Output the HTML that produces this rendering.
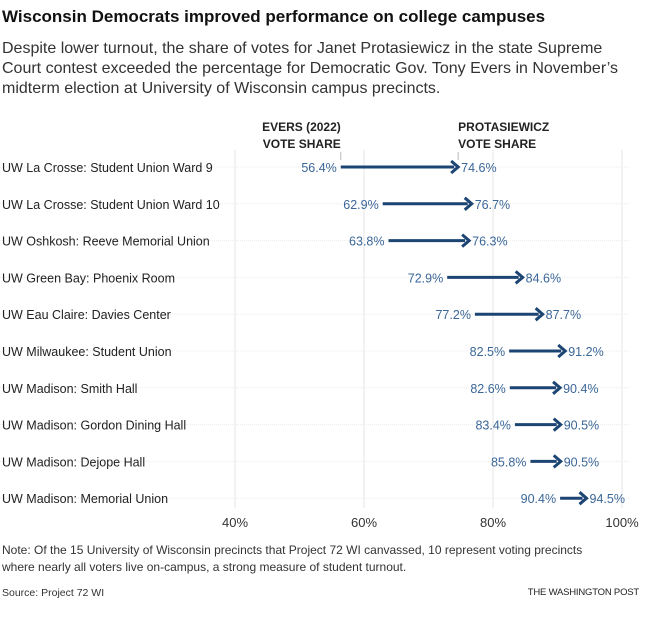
<!DOCTYPE html>
<html><head><meta charset="utf-8"><style>
body{margin:0;width:647px;height:619px;background:#fff;font-family:"Liberation Sans",sans-serif;color:#222;overflow:hidden;position:relative}
.t{position:absolute;left:2px;top:7px;font-size:17px;font-weight:bold;color:#111}
.s{position:absolute;left:2px;top:39px;width:622px;font-size:16px;line-height:20px;color:#333}
.n{position:absolute;left:2px;top:542px;width:612px;font-size:12px;line-height:17px;color:#333}
.src{position:absolute;left:2px;top:587px;font-size:10.5px;color:#333}
.wp{position:absolute;right:8px;top:587px;font-size:9.5px;color:#222;letter-spacing:-0.2px}
</style></head><body>
<div class="t">Wisconsin Democrats improved performance on college campuses</div>
<div class="s">Despite lower turnout, the share of votes for Janet Protasiewicz in the state Supreme Court contest exceeded the percentage for Democratic Gov. Tony Evers in November’s midterm election at University of Wisconsin campus precincts.</div>
<svg id="c" width="647" height="619" style="position:absolute;left:0;top:0"></svg>
<div class="n">Note: Of the 15 University of Wisconsin precincts that Project 72 WI canvassed, 10 represent voting precincts where nearly all voters live on-campus, a strong measure of student turnout.</div>
<div class="src">Source: Project 72 WI</div>
<div class="wp">THE WASHINGTON POST</div>
<script>
const categories=["UW La Crosse: Student Union Ward 9","UW La Crosse: Student Union Ward 10","UW Oshkosh: Reeve Memorial Union","UW Green Bay: Phoenix Room","UW Eau Claire: Davies Center","UW Milwaukee: Student Union","UW Madison: Smith Hall","UW Madison: Gordon Dining Hall","UW Madison: Dejope Hall","UW Madison: Memorial Union"];
const evers=[56.4,62.9,63.8,72.9,77.2,82.5,82.6,83.4,85.8,90.4];
const protasiewicz=[74.6,76.7,76.3,84.6,87.7,91.2,90.4,90.5,90.5,94.5];
const ticks=[40,60,80,100];
const NS="http://www.w3.org/2000/svg";
const svg=document.getElementById('c');
const x=v=>235+(v-40)*6.45;
const y=i=>167+i*36.8;
function mk(tag,at,txt){const e=document.createElementNS(NS,tag);for(const k in at)e.setAttribute(k,at[k]);if(txt!=null)e.textContent=txt;svg.appendChild(e);return e;}
ticks.forEach(t=>{
 const g=mk('line',{x1:x(t),x2:x(t),y1:150,y2:508,stroke:'#e6e6e6','stroke-width':1});
 
 
 const l=mk('text',{x:x(t),y:527,'text-anchor':'middle','font-size':13,fill:'#333'},t+'%');
 
 
});
categories.forEach((c,i)=>{
 const g=mk('line',{x1:0,x2:630,y1:y(i),y2:y(i),stroke:'#ececec','stroke-width':1,'stroke-dasharray':'1 1'});
 
 
 const lab=mk('text',{x:2,y:y(i)+5,'font-size':12.5,fill:'#222'},c);
 
 
 const x1=x(evers[i]),x2=x(protasiewicz[i]);
 const ln=mk('line',{x1:x1,x2:x2-4,y1:y(i),y2:y(i),stroke:'#1c4573','stroke-width':3});
 
 
 const hd=mk('path',{d:`M${x2-7},${y(i)-6} L${x2},${y(i)} L${x2-7},${y(i)+6}`,fill:'none',stroke:'#1c4573','stroke-width':3});
 
 
 const a=mk('text',{x:x1-4,y:y(i)+5,'text-anchor':'end','font-size':12.5,fill:'#3b6698'},evers[i].toFixed(1)+'%');
 
 
 const b=mk('text',{x:x2+3,y:y(i)+5,'font-size':12.5,fill:'#3b6698'},protasiewicz[i].toFixed(1)+'%');
 
 
});
[[x(evers[0]),'end','EVERS (2022)','VOTE SHARE','evers-header'],[x(protasiewicz[0]),'start','PROTASIEWICZ','VOTE SHARE','protasiewicz-header']].forEach(h=>{
 const t1=mk('text',{x:h[0],y:131,'text-anchor':h[1],'font-size':12,'font-weight':'bold',fill:'#222'},h[2]);
 
 
 const t2=mk('text',{x:h[0],y:148,'text-anchor':h[1],'font-size':12,'font-weight':'bold',fill:'#222'},h[3]);
 
 
 const tk=mk('line',{x1:h[0],x2:h[0],y1:152,y2:160,stroke:'#bbb','stroke-width':1});
 
 
});
</script>
</body></html>
